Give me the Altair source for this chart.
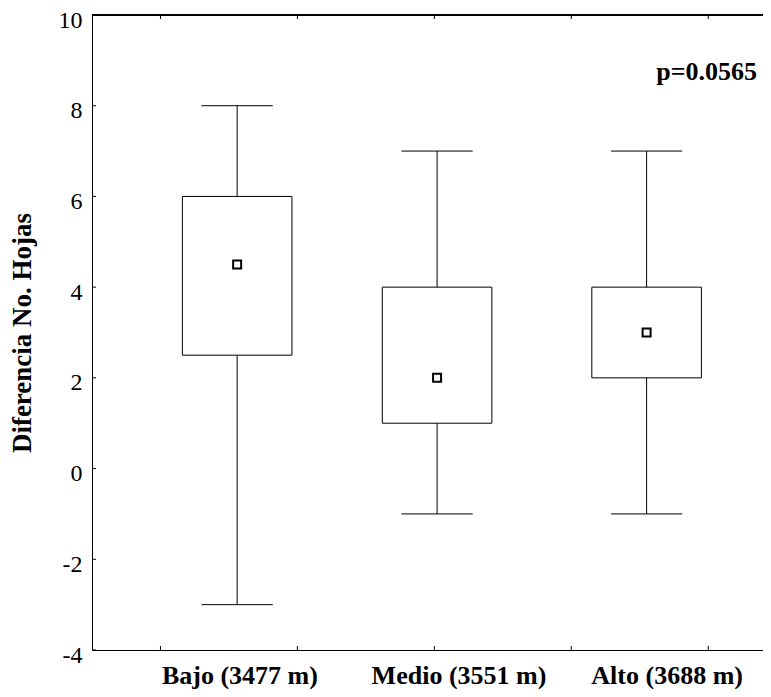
import altair as alt
import pandas as pd

# ---- data ----
categories = ["Bajo (3477 m)", "Medio (3551 m)", "Alto (3688 m)"]
positions = [1.06, 2.52, 4.05]          # category centres on the x scale
label_positions = [1.08, 2.68, 4.2]     # where the category captions sit
whisker_low = [-3, -1, -1]
whisker_high = [8, 7, 7]
box_low = [2.5, 1, 2]
box_high = [6, 4, 4]
centre = [4.5, 2, 3]
y_ticks = [-4, -2, 0, 2, 4, 6, 8, 10]
x_ticks = [0.5, 1.5, 2.5, 3.5, 4.5]
p_label = ["p=0.0565"]

FONT = "Liberation Serif"
W, H = 671, 635

df = pd.DataFrame({
    "cat": categories, "pos": positions, "lpos": label_positions,
    "lo": whisker_low, "hi": whisker_high,
    "q1": box_low, "q3": box_high, "mid": centre,
})
yt = pd.DataFrame({"v": y_ticks})
xt = pd.DataFrame({"v": x_ticks})
pt = pd.DataFrame({"t": p_label})

xs = alt.Scale(domain=[0, 4.9], nice=False, zero=False)
ys = alt.Scale(domain=[-4, 10], nice=False, zero=False)

yaxis = alt.Axis(values=y_ticks, tickSize=0, labelPadding=10, labelFont=FONT,
                 labelFontSize=24, labelColor="black", labelOffset=5,
                 labelExpr="'' + datum.value",
                 domainColor="black", domainWidth=1, grid=False,
                 title="Diferencia No. Hojas",
                 titleFont=FONT, titleFontSize=27, titleFontWeight="bold",
                 titleColor="black", titlePadding=22)
xaxis = alt.Axis(labels=False, ticks=False, grid=False, title=None,
                 domainColor="black", domainWidth=1)


def X(field):
    return alt.X(field, scale=xs, axis=xaxis, title=None)


def Y(field):
    return alt.Y(field, scale=ys, axis=yaxis, title="Diferencia No. Hojas")


base = alt.Chart(df)

whisk = base.mark_rule(color="black", strokeWidth=1).encode(
    x=X("pos:Q"), y=Y("lo:Q"), y2="hi:Q",
)

caps = base.transform_fold(["lo", "hi"], as_=["k", "v"]).transform_calculate(
    xa="datum.pos - 0.26", xb="datum.pos + 0.26"
).mark_rule(color="black", strokeWidth=1).encode(
    x=X("xa:Q"), x2="xb:Q", y=Y("v:Q"),
)

box = base.transform_calculate(
    xa="datum.pos - 0.4", xb="datum.pos + 0.4"
).mark_rect(fill="white", stroke="black", strokeWidth=1).encode(
    x=X("xa:Q"), x2="xb:Q", y=Y("q1:Q"), y2="q3:Q",
)

marker = base.mark_square(size=64, filled=True, fill="white", stroke="black",
                          strokeWidth=2, opacity=1).encode(
    x=X("pos:Q"), y=Y("mid:Q"),
)

ytick_marks = alt.Chart(yt).mark_rule(color="black", strokeWidth=1).encode(
    x=alt.value(0), x2=alt.value(4), y=Y("v:Q"),
)
xtick_bottom = alt.Chart(xt).mark_rule(color="black", strokeWidth=1).encode(
    x=X("v:Q"), y=alt.value(H), y2=alt.value(H - 4),
)
xtick_top = alt.Chart(xt).mark_rule(color="black", strokeWidth=1).encode(
    x=X("v:Q"), y=alt.value(0), y2=alt.value(4),
)
top_line = alt.Chart(yt).mark_rule(color="black", strokeWidth=1).encode(
    x=alt.value(0), x2=alt.value(W), y=alt.value(0),
)

cat_text = base.mark_text(font=FONT, fontWeight="bold", fontSize=26,
                          baseline="alphabetic", align="center",
                          color="black").encode(
    x=X("lpos:Q"), y=alt.value(H + 34), text="cat:N",
)

p_text = alt.Chart(pt).mark_text(font=FONT, fontWeight="bold", fontSize=26,
                                 baseline="alphabetic", align="right",
                                 color="black").encode(
    x=alt.value(665), y=alt.value(65), text="t:N",
)

chart = alt.layer(
    whisk, caps, box, marker, ytick_marks, xtick_bottom, xtick_top, top_line,
    cat_text, p_text,
).properties(
    width=W, height=H,
    autosize=alt.AutoSizeParams(type="none"),
    padding={"left": 84, "top": 7, "right": 0, "bottom": 39},
    background="white",
).configure_view(stroke=None)

chart.save("out.html", embed_options={"renderer": "svg", "actions": False})
